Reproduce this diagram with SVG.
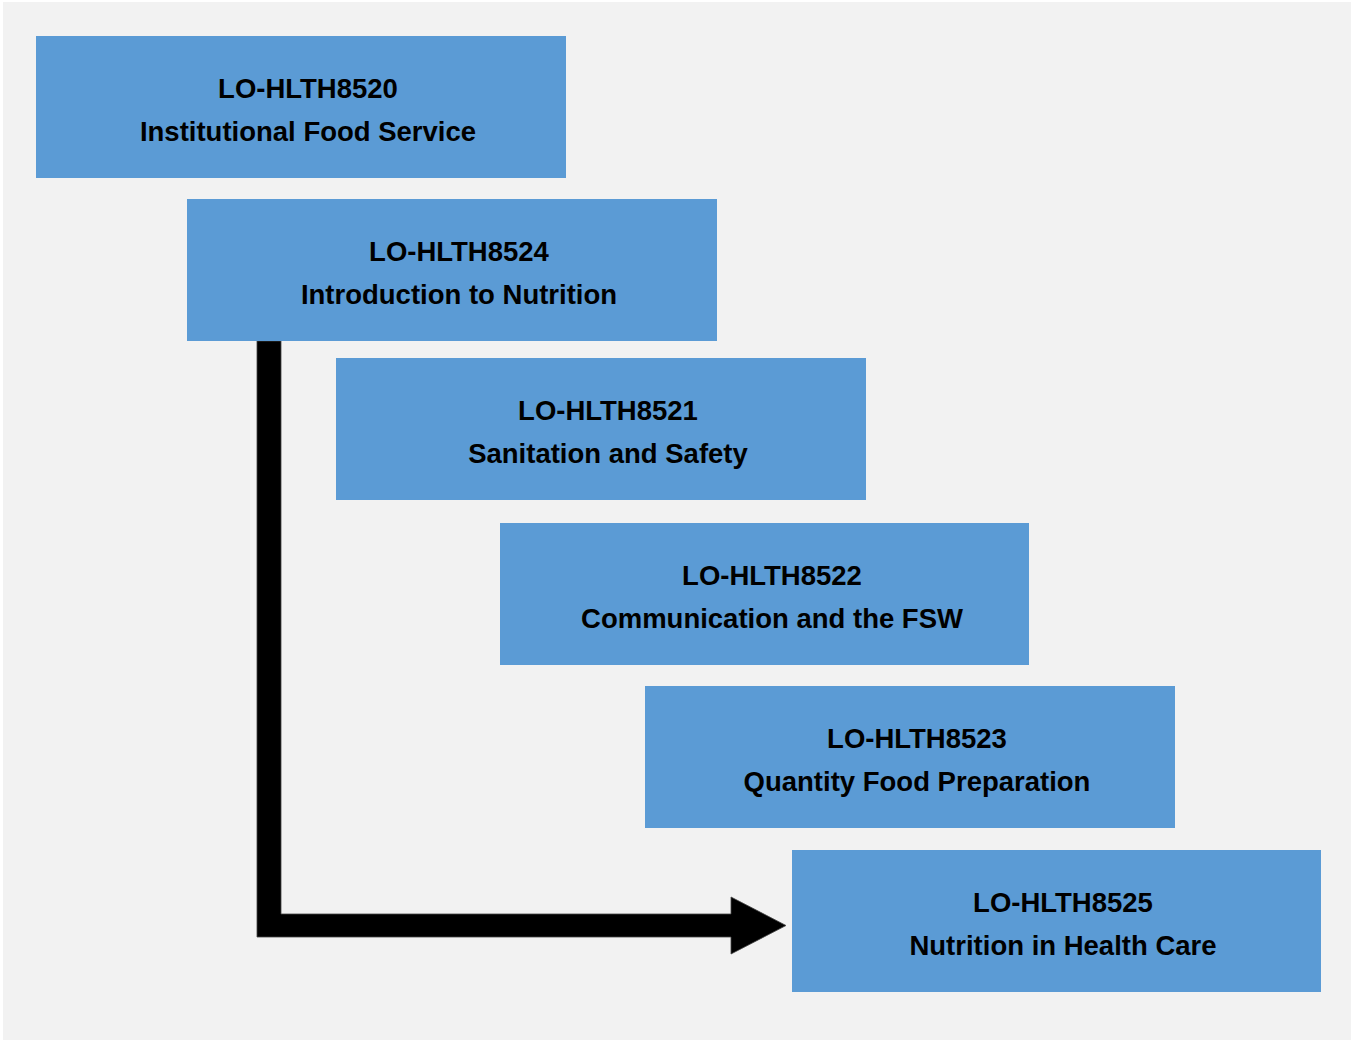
<svg xmlns="http://www.w3.org/2000/svg" width="1351" height="1042" viewBox="0 0 1351 1042">
<style>
.box{fill:#5b9bd5}
.t{font-family:"Liberation Sans",Arial,sans-serif;font-weight:bold;font-size:27.5px;fill:#000;text-anchor:middle}
</style>
<rect x="0" y="0" width="1351" height="1042" fill="#ffffff"/>
<rect x="3" y="2" width="1348" height="1038" fill="#f2f2f2"/>
<g id="connectors">
<path d="M257,341 L281,341 L281,914 L731,914 L731,897 L786,925.5 L731,954 L731,937 L257,937 Z" fill="#000" stroke="#444" stroke-width="0.8"/>
</g>
<g id="n8520">
<rect class="box" x="36" y="36" width="530" height="142"/>
<text class="t" x="308" y="98">LO-HLTH8520</text>
<text class="t" x="308" y="141">Institutional Food Service</text>
</g>
<g id="n8524">
<rect class="box" x="187" y="199" width="530" height="142"/>
<text class="t" x="459" y="261">LO-HLTH8524</text>
<text class="t" x="459" y="304">Introduction to Nutrition</text>
</g>
<g id="n8521">
<rect class="box" x="336" y="358" width="530" height="142"/>
<text class="t" x="608" y="420">LO-HLTH8521</text>
<text class="t" x="608" y="463">Sanitation and Safety</text>
</g>
<g id="n8522">
<rect class="box" x="500" y="523" width="529" height="142"/>
<text class="t" x="772" y="585">LO-HLTH8522</text>
<text class="t" x="772" y="628">Communication and the FSW</text>
</g>
<g id="n8523">
<rect class="box" x="645" y="686" width="530" height="142"/>
<text class="t" x="917" y="748">LO-HLTH8523</text>
<text class="t" x="917" y="791">Quantity Food Preparation</text>
</g>
<g id="n8525">
<rect class="box" x="792" y="850" width="529" height="142"/>
<text class="t" x="1063" y="912">LO-HLTH8525</text>
<text class="t" x="1063" y="955">Nutrition in Health Care</text>
</g>
</svg>
